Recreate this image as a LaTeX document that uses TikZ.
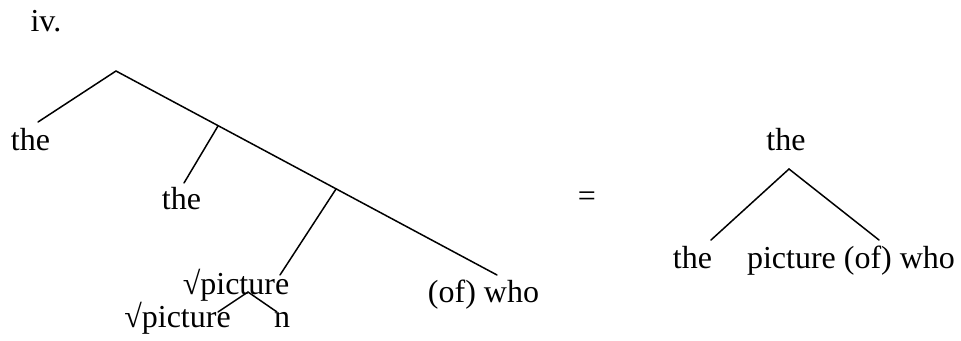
\documentclass[tikz,border=0pt]{standalone}
\usepackage{fontspec}
\setmainfont{Liberation Serif}
\begin{document}
\begin{tikzpicture}[x=1pt,y=-1pt,
  lbl/.style={inner sep=0pt,anchor=base,font=\fontsize{32}{38}\selectfont},
  branch/.style={line width=1.5pt,line cap=round}]
\useasboundingbox (0,0) rectangle (961,340);
% labels
\node[lbl] (iv) at (46,31) {iv.};
\node[lbl] (the1) at (30.5,150) {the};
\node[lbl] (the2) at (181.5,209) {the};
\node[lbl] (rootup) at (236,294) {\char"221A picture};
\node[lbl] (rootlow) at (177.5,327) {\char"221A picture};
\node[lbl] (n) at (282,327) {n};
\node[lbl] (ofwho) at (483.5,302) {(of) who};
\node[lbl] (eq) at (587,206) {=};
\node[lbl] (theR) at (786,150) {the};
\node[lbl] (theRL) at (692.5,268) {the};
\node[lbl] (picR) at (851,268) {picture (of) who};
% branch points and line ends
\coordinate (root) at (116,71);
\coordinate (b1) at (218,126);
\coordinate (b2) at (336,189);
\coordinate (e1) at (38,122);
\coordinate (e2) at (184,183);
\coordinate (e3) at (280,275);
\coordinate (e4) at (497,275);
\coordinate (s0) at (248,292);
\coordinate (s1) at (218,312);
\coordinate (s2) at (277,312);
\coordinate (r0) at (789,169);
\coordinate (r1) at (711,240);
\coordinate (r2) at (879,240);
% left tree
\draw[branch] (e1) -- (root) -- (e4);
\draw[branch] (b1) -- (e2);
\draw[branch] (b2) -- (e3);
\draw[branch] (s1) -- (s0) -- (s2);
% right tree
\draw[branch] (r1) -- (r0) -- (r2);
\end{tikzpicture}
\end{document}
